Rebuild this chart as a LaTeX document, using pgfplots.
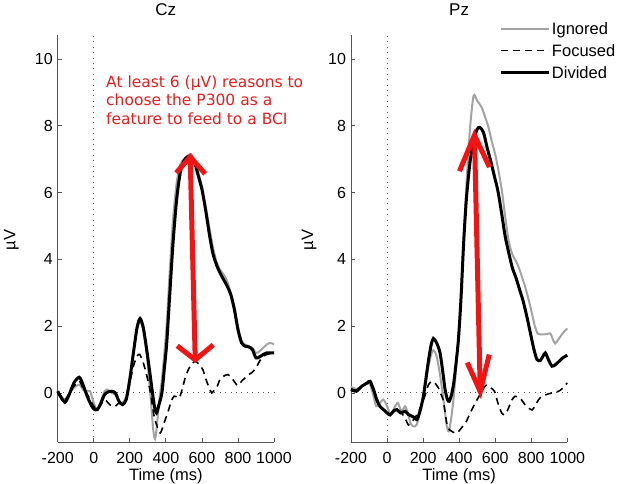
\documentclass[border=0pt]{standalone}
\usepackage{fontspec}
\setmainfont{Liberation Sans}
\newfontfamily\notefont{DejaVu Sans}
\usepackage{pgfplots}
\pgfplotsset{compat=1.18}
\definecolor{axgray}{HTML}{555555}
\definecolor{ignGray}{HTML}{A3A3A3}
\definecolor{noteRed}{HTML}{E41E1E}
\definecolor{arrRed}{HTML}{F01414}

\tikzset{arr/.style={arrRed, line width=5pt, line join=miter, line cap=butt}}
\pgfplotsset{
  erp/.style={
    scale only axis, width=216.3pt, height=407pt, anchor=south west,
    xmin=-200, xmax=1000, ymin=-1.47, ymax=10.72, clip=false,
    axis x line*=bottom, axis y line*=left,
    axis line style={axgray, line width=0.9pt},
    xtick={-200,0,...,1000}, ytick={0,2,...,10},
    tick align=inside, major tick length=4pt,
    tick style={axgray, line width=0.8pt},
    /pgf/number format/assume math mode=true,
    /pgf/number format/set thousands separator={},
    tick label style={font=\fontsize{16}{19}\selectfont},
    xticklabel style={yshift=-6.5pt},
    yticklabel style={xshift=-1.5pt},
    xlabel={Time (ms)}, ylabel={µV},
    label style={font=\fontsize{16.5}{19}\selectfont},
    xlabel style={at={(axis description cs:0.5,0)}, anchor=base, yshift=-38pt},
    ylabel style={at={(axis description cs:-0.205,0.496)}, anchor=center},
    title style={font=\fontsize{17}{20}\selectfont, at={(axis description cs:0.5,1)}, anchor=base, yshift=13.5pt},
    legend image code/.code={\path (0pt,0pt) (48pt,0pt);\draw[#1] (0pt,2pt) -- (48pt,2pt);},
  },
  ign/.style={ignGray, line width=2pt, smooth, tension=0.45},
  foc/.style={black, line width=1.6pt, dash pattern=on 7pt off 5pt, smooth, tension=0.45},
  div/.style={black, line width=3pt, smooth, tension=0.45},
  zero/.style={axgray, line width=0.9pt, dash pattern=on 0.9pt off 4.5pt, forget plot},
}

\begin{document}
\begin{tikzpicture}
\useasboundingbox (0,0) rectangle (618pt,484pt);

% ---------- Cz ----------
\begin{axis}[erp, at={(57.7pt,42pt)}, title={Cz},
  ylabel style={at={(axis description cs:-0.214,0.496)}}]
\addplot[zero] coordinates {(0,-1.47) (0,10.72)};
\addplot[zero] coordinates {(-200,0) (1000,0)};
\addplot[ign] coordinates {
(-200,0.05) (-180,-0.1) (-160,-0.2) (-140,-0.05) (-110,0.15) (-80,0.25)
(-60,0.1) (-40,0.05) (-20,0.05) (0,-0.3) (20,-0.5) (40,-0.25) (60,0.05)
(75,0.1) (100,0.0) (120,-0.05) (140,-0.25) (160,-0.3) (180,-0.1) (200,0.5)
(220,1.2) (240,1.9) (257,2.15) (275,1.85) (295,1.1) (315,-0.1) (330,-1.1)
(340,-1.38) (350,-1.0) (362,-0.3) (378,0.4) (392,1.2) (405,2.1) (420,3.5)
(440,5.2) (460,6.3) (480,6.85) (500,7.0) (520,7.1) (540,7.15) (560,6.95)
(580,6.6) (600,6.2) (620,5.6) (640,5.0) (660,4.4) (680,3.95) (700,3.7)
(720,3.55) (740,3.35) (760,3.0) (780,2.6) (800,2.0) (820,1.55) (840,1.45)
(860,1.4) (880,1.35) (900,1.2) (920,1.25) (940,1.35) (960,1.45) (980,1.5)
(1000,1.45)};
\addplot[foc] coordinates {
(-200,0.05) (-180,-0.12) (-160,-0.22) (-140,-0.05) (-110,0.2) (-80,0.35)
(-60,0.15) (-40,0.0) (-20,-0.2) (0,-0.4) (20,-0.5) (40,-0.35) (60,-0.2)
(80,-0.3) (100,-0.4) (120,-0.4) (140,-0.3) (160,-0.35) (180,-0.2) (200,0.3)
(220,0.8) (240,1.1) (255,1.15) (275,0.9) (295,0.5) (315,0.0) (335,-0.7)
(355,-1.05) (370,-1.2) (390,-0.9) (410,-0.6) (430,-0.25) (445,-0.1)
(460,-0.12) (475,-0.15) (490,0.1) (510,0.5) (530,0.75) (550,0.9) (565,0.95)
(585,0.85) (605,0.7) (620,0.45) (640,0.15) (655,0.0) (670,0.1) (685,0.2)
(700,0.4) (720,0.5) (745,0.55) (765,0.45) (785,0.3) (800,0.22) (820,0.35)
(840,0.45) (860,0.55) (880,0.62) (900,0.75) (920,0.95) (940,1.1) (960,1.15)
(980,1.18) (1000,1.2)};
\addplot[div] coordinates {
(-200,0.05) (-180,-0.15) (-160,-0.28) (-140,-0.1) (-110,0.3) (-80,0.47)
(-60,0.25) (-40,-0.05) (-20,-0.3) (0,-0.48) (20,-0.5) (40,-0.3) (60,-0.05)
(80,0.03) (100,0.05) (120,0.0) (140,-0.25) (160,-0.35) (180,-0.2) (200,0.4)
(220,1.2) (240,1.95) (257,2.23) (275,1.95) (295,1.25) (315,0.45) (335,-0.35)
(348,-0.6) (362,-0.35) (378,0.0) (392,0.75) (405,1.5) (420,2.8) (440,4.5)
(460,5.8) (480,6.6) (500,6.95) (520,7.07) (540,7.08) (560,6.9) (580,6.5)
(600,6.1) (620,5.5) (640,4.8) (660,4.2) (680,3.85) (700,3.6) (720,3.4)
(740,3.2) (760,2.95) (780,2.5) (800,1.9) (820,1.5) (840,1.4) (860,1.38)
(880,1.3) (900,1.05) (920,1.08) (940,1.15) (960,1.2) (980,1.2) (1000,1.2)};
% annotation
\draw[arr] (axis cs:563,0.99) -- (axis cs:535,7.07);
\draw[arr] ([shift={(-14pt,-16pt)}]axis cs:535,7.07) -- (axis cs:535,7.07)
  -- ([shift={(15pt,-17pt)}]axis cs:535,7.07);
\draw[arr] ([shift={(-18pt,14pt)}]axis cs:563,0.99) -- (axis cs:563,0.99)
  -- ([shift={(18pt,15pt)}]axis cs:563,0.99);
\node[anchor=north west, align=left, text=noteRed, inner sep=0pt,
  font=\notefont\fontsize{15.5}{18.5}\selectfont] at (axis cs:68,9.52)
  {At least 6 (µV) reasons to\\choose the P300 as a\\feature to feed to a BCI};
\end{axis}

% ---------- Pz ----------
\begin{axis}[erp, at={(351pt,42pt)}, title={Pz},
  ylabel style={at={(axis description cs:-0.194,0.496)}},
  legend cell align=left,
  legend style={at={(axis description cs:0.6856,1.0383)}, anchor=north west,
    draw=none, fill=none, inner sep=0pt, row sep=0pt, column sep=1.5pt,
    nodes={inner sep=0pt, text height=15pt, text depth=7pt},
    font=\fontsize{16.5}{19}\selectfont}]
\addplot[zero] coordinates {(0,-1.47) (0,10.72)};
\addplot[zero] coordinates {(-200,0) (1000,0)};
\addplot[ign] coordinates {
(-200,0.18) (-170,0.12) (-140,0.2) (-110,0.28) (-94,0.25) (-75,-0.1)
(-60,-0.4) (-40,-0.3) (-20,-0.2) (0,-0.4) (20,-0.65) (40,-0.45) (60,-0.3)
(80,-0.55) (100,-0.4) (115,-0.6) (130,-0.9) (145,-1.0) (165,-0.95)
(185,-0.5) (200,-0.1) (215,0.3) (230,0.8) (245,1.15) (257,1.28) (275,1.1)
(295,0.5) (315,-0.3) (330,-0.95) (342,-1.15) (355,-0.8) (370,-0.1)
(385,0.9) (400,2.0) (420,4.0) (440,6.2) (460,7.9) (480,8.9) (500,8.75)
(525,8.55) (545,8.25) (563,7.95) (580,7.55) (600,7.15) (620,6.6) (637,6.06)
(655,5.3) (674,4.57) (695,4.15) (715,3.95) (730,3.77) (750,3.45) (767,3.17)
(785,2.8) (804,2.38) (820,2.0) (835,1.78) (852,1.75) (870,1.75) (890,1.77)
(906,1.78) (920,1.6) (933,1.48) (950,1.6) (970,1.75) (985,1.85) (1000,1.93)};
\addlegendentry{Ignored}
\addplot[foc] coordinates {
(-200,0.12) (-170,0.08) (-140,0.2) (-110,0.3) (-94,0.3) (-75,0.05)
(-57,-0.25) (-40,-0.4) (-20,-0.5) (0,-0.55) (20,-0.65) (40,-0.5) (60,-0.5)
(80,-0.6) (100,-0.75) (119,-0.96) (140,-0.85) (160,-0.7) (180,-0.5)
(200,-0.25) (215,0.0) (230,0.25) (248,0.34) (265,0.3) (285,0.15) (300,-0.05)
(313,-0.25) (331,-0.9) (345,-1.1) (359,-1.15) (375,-1.2) (390,-1.2)
(405,-1.1) (420,-1.0) (440,-0.85) (461,-0.61) (475,-0.45) (489,-0.31)
(505,-0.15) (526,0.04) (540,0.18) (554,0.24) (575,0.15) (596,0.05)
(615,-0.3) (637,-0.61) (655,-0.65) (670,-0.5) (693,-0.21) (710,-0.1)
(725,-0.12) (745,-0.2) (765,-0.35) (785,-0.45) (804,-0.51) (820,-0.4)
(841,-0.2) (860,-0.1) (878,-0.06) (895,-0.03) (915,0.0) (935,0.02)
(952,0.05) (970,0.12) (989,0.24) (1000,0.3)};
\addlegendentry{Focused}
\addplot[div] coordinates {
(-200,0.1) (-170,0.05) (-140,0.2) (-110,0.3) (-94,0.35) (-75,0.1)
(-57,-0.2) (-40,-0.4) (-20,-0.5) (0,-0.6) (17,-0.66) (35,-0.55) (54,-0.5)
(75,-0.6) (100,-0.55) (120,-0.65) (146,-0.72) (165,-0.8) (180,-0.6)
(200,-0.15) (215,0.4) (230,0.98) (245,1.45) (257,1.63) (275,1.5) (294,1.2)
(310,0.6) (322,0.1) (335,-0.2) (345,-0.25) (358,-0.05) (370,0.3) (383,0.9)
(396,1.6) (410,2.8) (425,4.5) (440,5.8) (460,6.9) (480,7.55) (500,7.9)
(515,7.95) (535,7.8) (555,7.35) (575,6.95) (595,6.5) (615,6.05) (635,5.4)
(655,4.7) (675,4.2) (695,3.75) (715,3.45) (735,3.1) (755,2.75) (775,2.3)
(795,1.8) (815,1.3) (832,1.0) (850,0.97) (865,1.1) (878,1.2) (895,1.0)
(915,0.8) (935,0.85) (955,0.95) (975,1.05) (1000,1.13)};
\addlegendentry{Divided}
% annotation
\draw[arr] (axis cs:517,0.04) -- (axis cs:485,7.72);
\draw[arr] ([shift={(-15pt,-36pt)}]axis cs:485,7.72) -- (axis cs:485,7.72)
  -- ([shift={(15pt,-32pt)}]axis cs:485,7.72);
\draw[arr] ([shift={(-13pt,29pt)}]axis cs:517,0.04) -- (axis cs:517,0.04)
  -- ([shift={(9pt,37pt)}]axis cs:517,0.04);
\end{axis}
\end{tikzpicture}
\end{document}
